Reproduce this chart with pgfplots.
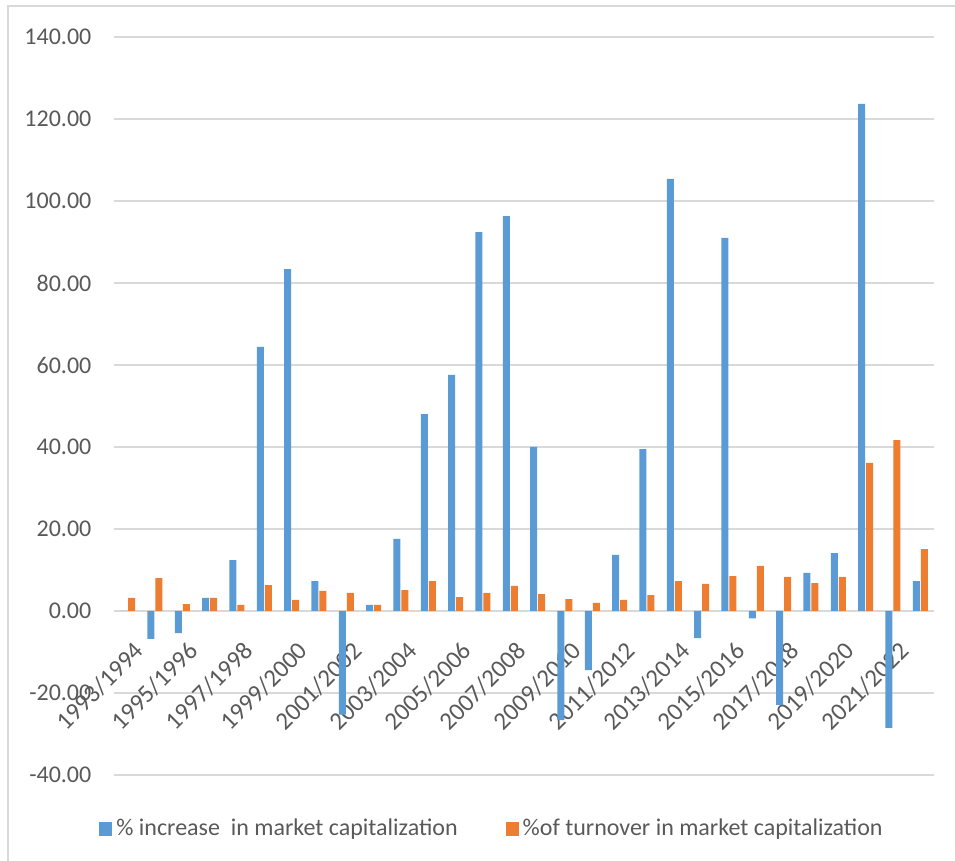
\documentclass[border=0pt]{standalone}
\usepackage{pgfplots}
\pgfplotsset{compat=1.18}
\usepackage{pgfplotstable}
\usepackage{fontspec}
\setmainfont{Carlito}
\definecolor{cblue}{HTML}{5B9BD5}
\definecolor{corange}{HTML}{ED7D31}
\definecolor{ctext}{HTML}{595959}
\definecolor{cgrid}{HTML}{D9D9D9}
\pgfplotsset{sqlegend/.style={legend image code/.code={\fill[##1] (0pt,-3.4pt) rectangle (6.5pt,3.4pt);}}}

\pgfplotstableread{
x blue orange
0 0 3.2
1 -6.8 8.0
2 -5.4 1.7
3 3.2 3.2
4 12.4 1.5
5 64.4 6.3
6 83.4 2.7
7 7.3 4.9
8 -25.3 4.4
9 1.5 1.5
10 17.6 5.1
11 48.0 7.3
12 57.6 3.4
13 92.4 4.4
14 96.3 6.1
15 40.0 4.1
16 -26.6 2.9
17 -14.4 2.0
18 13.7 2.7
19 39.5 3.9
20 105.4 7.3
21 -6.6 6.6
22 91.0 8.5
23 -1.8 11.0
24 -22.9 8.3
25 9.3 6.8
26 14.1 8.3
27 123.7 36.1
28 -28.5 41.7
29 7.3 15.1
}\data

\begin{document}
\begin{tikzpicture}
\begin{axis}[
  scale only axis, width=410pt, height=369pt,
  xmin=-0.5, xmax=29.5, ymin=-40, ymax=140,
  axis x line*=middle, axis y line*=left,
  x axis line style={draw=cgrid, line width=1pt, -},
  y axis line style={draw=none},
  ybar=0.5pt, bar width=3.5pt,
  ytick={-40,-20,...,140},
  ymajorgrids, grid style={draw=cgrid, line width=0.7pt},
  xtick={0,2,...,28},
  xticklabels={1993/1994,1995/1996,1997/1998,1999/2000,2001/2002,2003/2004,2005/2006,2007/2008,2009/2010,2011/2012,2013/2014,2015/2016,2017/2018,2019/2020,2021/2022},
  tick style={draw=none},
  ticklabel style={text=ctext, font=\fontsize{12}{14}\selectfont},
  /pgf/number format/assume math mode=true,
  y tick label style={/pgf/number format/.cd, fixed, fixed zerofill, precision=2, assume math mode=true, /tikz/.cd, xshift=-7.8pt},
  xticklabel style={xshift=2.5pt, yshift=-5.5pt, rotate=45, anchor=north east, font=\fontsize{12.5}{14}\selectfont},
  legend columns=2,
  legend style={at={(-0.0183,-0.0732)}, anchor=west, draw=none, fill=none, inner sep=0pt,
    font=\fontsize{12}{14}\selectfont, text=ctext,
    /tikz/every even column/.append style={column sep=22pt}},
]
\addplot[fill=cblue, draw=none, sqlegend] table[x=x, y=blue] {\data};
\addplot[fill=corange, draw=none, sqlegend] table[x=x, y=orange] {\data};
\legend{\%~increase\ \ in market capitalization, \%of turnover in market capitalization}
\end{axis}
\draw[cgrid, line width=0.75pt] (-53pt,-60pt) -- (-53pt,384.5pt) -- (440pt,384.5pt);
\pgfresetboundingbox
\path (-57pt,-43pt) rectangle (420.5pt,387.5pt);
\end{tikzpicture}
\end{document}
